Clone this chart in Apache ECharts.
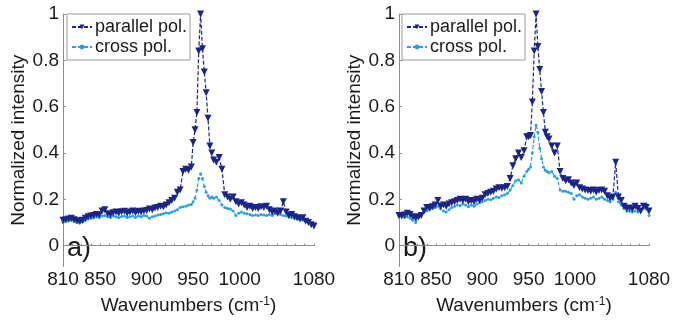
<!DOCTYPE html>
<html>
<head>
<meta charset="utf-8">
<script src="https://cdn.jsdelivr.net/npm/echarts@6/dist/echarts.min.js"></script>
<style>
html,body{margin:0;padding:0;background:#fff;}
#c{width:686px;height:320px;}
</style>
</head>
<body>
<div id="c"></div>
<script>
// Wavenumbers (cm^-1) shared by all series
const wavenumbers = [
810,813,816,819,822,825,828,831,834,837,840,843,846,849,852,855,858,861,864,867,870,873,876,879,882,885,888,891,894,897,900,903,906,909,912,915,918,921,924,927,930,933,936,939,942,945,948,
950,952,954,956,958,960,962,964,966,968,970,
972,975,978,981,984,987,990,993,996,999,1002,1005,1008,1011,1014,1017,1020,1023,1026,1029,1032,1035,1038,1041,1044,1047,1050,1053,1056,1059,1062,1065,1068,1071,1074,1077,1080
];

// Panel a)
const parallelA = [
.110,.112,.115,.118,.112,.108,.105,.110,.118,.125,.128,.130,.135,.132,.150,.155,.138,.135,.142,.145,.140,.146,.148,.140,.145,.150,.142,.148,.145,.150,.152,.158,.155,.162,.165,.170,.168,.175,.185,.195,.205,.230,.240,.320,.330,.325,.340,
.445,.500,.575,.840,1.000,.850,.750,.660,.550,.430,.400,
.370,.360,.380,.330,.220,.210,.200,.210,.190,.180,.185,.175,.165,.170,.160,.165,.160,.168,.165,.170,.155,.145,.150,.140,.150,.190,.145,.130,.135,.125,.120,.115,.120,.105,.100,.090,.085
];
const crossA = [
.100,.105,.108,.110,.105,.100,.098,.102,.108,.115,.118,.120,.125,.122,.128,.130,.125,.122,.128,.125,.120,.126,.128,.122,.125,.128,.122,.128,.125,.130,.128,.118,.125,.128,.132,.135,.138,.142,.140,.145,.150,.155,.165,.168,.170,.175,.178,
.190,.205,.240,.290,.310,.290,.255,.230,.215,.205,.210,
.205,.210,.195,.175,.165,.160,.158,.150,.130,.140,.145,.140,.138,.135,.130,.132,.130,.135,.132,.130,.135,.130,.138,.140,.135,.130,.128,.125,.122,.118,.115,.112,.110,.105,.100,.095,.090
];

// Panel b)
const parallelB = [
.130,.128,.132,.140,.135,.125,.118,.125,.130,.150,.165,.162,.168,.175,.195,.170,.175,.170,.180,.185,.190,.195,.200,.195,.200,.190,.195,.190,.200,.195,.205,.220,.225,.230,.235,.245,.250,.248,.250,.255,.290,.345,.375,.400,.380,.410,.470,
.470,.475,.620,.840,1.000,.860,.760,.665,.575,.490,.470,
.460,.430,.400,.430,.320,.290,.280,.285,.270,.260,.270,.250,.245,.240,.238,.235,.240,.232,.238,.240,.235,.215,.205,.210,.360,.210,.195,.170,.160,.162,.158,.170,.160,.150,.170,.165,.150
];
const crossB = [
.125,.128,.122,.125,.118,.110,.100,.120,.135,.145,.150,.155,.160,.165,.170,.158,.150,.145,.155,.165,.170,.175,.172,.180,.175,.168,.175,.170,.180,.185,.190,.195,.200,.198,.205,.210,.208,.215,.220,.225,.240,.260,.280,.285,.270,.300,.320,
.330,.340,.400,.470,.520,.490,.420,.375,.340,.325,.320,
.315,.320,.300,.290,.240,.235,.235,.230,.225,.200,.215,.220,.210,.205,.200,.205,.210,.200,.205,.210,.200,.195,.190,.200,.230,.190,.175,.160,.150,.148,.145,.150,.145,.150,.160,.180,.130
];

const seriesNames = ['parallel pol.', 'cross pol.'];
const xTickLabels = [810, 850, 900, 950, 1000, 1080];
const yTickLabels = [0, 0.2, 0.4, 0.6, 0.8, 1];
const panelLabels = ['a)', 'b)'];

const darkColor = '#1b2587';
const lightColor = '#2a9fe0';
const font = 'Liberation Sans, Arial, sans-serif';

const xMinor = [];
for (let v = 810; v <= 1080; v += 10) xMinor.push(v);

function pairs(xs, ys) { return xs.map((x, i) => [x, ys[i]]); }

const grids = [
  { left: 63, top: 14, width: 251, height: 254 },
  { left: 399, top: 14, width: 250, height: 254 }
];

function xAxisFor(i) {
  return {
    type: 'value', gridIndex: i, min: 810, max: 1080,
    name: 'Wavenumbers (cm{sup|-1})',
    nameLocation: 'middle', nameGap: 29,
    nameTextStyle: {
      fontFamily: font, fontSize: 19, color: '#1a1a1a',
      rich: { sup: { fontFamily: font, fontSize: 12, color: '#1a1a1a', verticalAlign: 'top', padding: [0, 0, 8, 0] } }
    },
    axisLine: { show: true, lineStyle: { color: '#8c8c8c', width: 1 } },
    axisTick: { show: true, inside: true, length: 2, customValues: xMinor, lineStyle: { color: '#8c8c8c' } },
    axisLabel: { customValues: xTickLabels, fontFamily: font, fontSize: 19, color: '#1a1a1a', margin: 4,
      formatter: v => String(Math.round(v)) },
    splitLine: { show: false }
  };
}
function yAxisFor(i) {
  return {
    type: 'value', gridIndex: i, min: -0.09, max: 1,
    name: 'Normalized intensity',
    nameLocation: 'middle', nameGap: 29, nameRotate: 90,
    nameTextStyle: { fontFamily: font, fontSize: 19, color: '#1a1a1a' },
    axisLine: { show: true, lineStyle: { color: '#8c8c8c', width: 1 } },
    axisTick: { show: true, inside: true, length: 3, customValues: yTickLabels, lineStyle: { color: '#8c8c8c' } },
    axisLabel: { customValues: yTickLabels, fontFamily: font, fontSize: 19, color: '#1a1a1a', margin: 4,
      formatter: v => String(Math.round(v * 10) / 10) },
    splitLine: { show: false }
  };
}

function seriesFor(i, par, cross) {
  return [
    {
      name: seriesNames[0], type: 'line', xAxisIndex: i, yAxisIndex: i,
      data: pairs(wavenumbers, par),
      symbol: 'triangle', symbolRotate: 180, symbolSize: 7, showAllSymbol: true,
      itemStyle: { color: darkColor },
      lineStyle: { color: darkColor, width: 1.2, type: [4, 2] },
      z: 3
    },
    {
      name: seriesNames[1], type: 'line', xAxisIndex: i, yAxisIndex: i,
      data: pairs(wavenumbers, cross),
      symbol: 'circle', symbolSize: 3, showAllSymbol: true,
      itemStyle: { color: lightColor },
      lineStyle: { color: lightColor, width: 1.2, type: [4, 2] },
      z: 2
    }
  ];
}

function legendFor(left) {
  return {
    left: left, top: 14, orient: 'vertical',
    data: seriesNames,
    backgroundColor: '#fff',
    borderColor: '#9a9a9a', borderWidth: 1, borderRadius: 0,
    padding: [4, 3, 4, 4], itemGap: 2,
    itemWidth: 20, itemHeight: 6,
    selectedMode: false,
    textStyle: { fontFamily: font, fontSize: 18, color: '#1a1a1a', padding: [0, 0, 0, -2] }
  };
}

const chart = echarts.init(document.getElementById('c'), null, { renderer: 'canvas' });
chart.setOption({
  animation: false,
  backgroundColor: '#fff',
  grid: grids,
  xAxis: [xAxisFor(0), xAxisFor(1)],
  yAxis: [yAxisFor(0), yAxisFor(1)],
  legend: [legendFor(67), legendFor(402)],
  series: [...seriesFor(0, parallelA, crossA), ...seriesFor(1, parallelB, crossB)],
  graphic: [
    { type: 'text', left: 67, top: 235, style: { text: panelLabels[0], fontFamily: font, fontSize: 27, fill: '#1a1a1a' } },
    { type: 'text', left: 403, top: 235, style: { text: panelLabels[1], fontFamily: font, fontSize: 27, fill: '#1a1a1a' } }
  ]
});
</script>
</body>
</html>
